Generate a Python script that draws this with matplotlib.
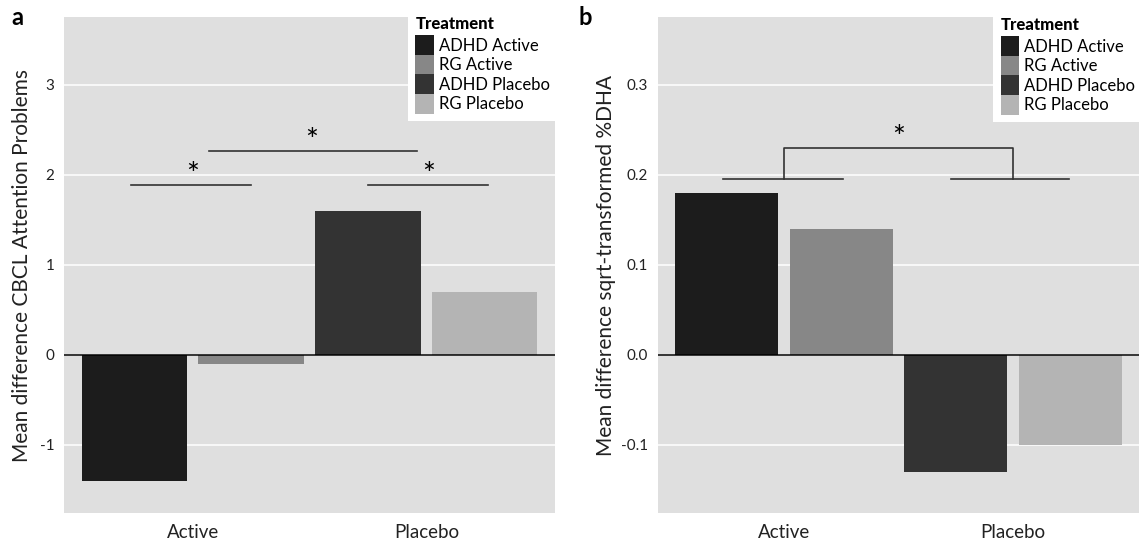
import matplotlib
matplotlib.use("Agg")
import matplotlib.pyplot as plt
from matplotlib.patches import Patch

plt.rcParams['font.family'] = ['Lato', 'DejaVu Sans']

# data
groups = ['Active', 'Placebo']
treatments = ['ADHD Active', 'RG Active', 'ADHD Placebo', 'RG Placebo']
treat_group = [0, 0, 1, 1]
treat_offset = [-0.25, 0.25, -0.25, 0.25]
cbcl_diff = [-1.40, -0.10, 1.60, 0.69]
dha_diff = [0.18, 0.14, -0.13, -0.10]
fills = ['#1c1c1c', '#878787', '#333333', '#b4b4b4']

yticks_a = [-1, 0, 1, 2, 3]
ytick_labels_a = ['-1', '0', '1', '2', '3']
yticks_b = [-0.1, 0.0, 0.1, 0.2, 0.3]
ytick_labels_b = ['-0.1', '0.0', '0.1', '0.2', '0.3']

# significance bars: (x start, x end, y)
sig_lines_a = [(-0.265, 0.25, 1.88), (0.07, 0.96, 2.26), (0.75, 1.265, 1.885)]
sig_stars_a = [(0.0, 1.88), (0.51, 2.26), (1.01, 1.885)]
sig_lines_b = [(-0.267, 0.256, 0.195), (0.73, 1.245, 0.195)]
bracket_b = ([0.0, 0.0, 1.0, 1.0], [0.195, 0.23, 0.23, 0.195])
sig_stars_b = [(0.5, 0.23)]

W, H = 1142, 543
fig = plt.figure(figsize=(W / 100, H / 100), dpi=100)
ax_a = fig.add_axes([64 / W, 1 - 513 / H, 491 / W, 496 / H])
ax_b = fig.add_axes([658 / W, 1 - 513 / H, 481 / W, 496 / H])


def draw_panel(ax, values, yticks, ylabels, ylim, ylabel, label_x):
    ax.set_facecolor('#dfdfdf')
    for sp in ax.spines.values():
        sp.set_visible(False)
    xs = [treat_group[i] + treat_offset[i] for i in range(len(values))]
    ax.bar(xs, values, width=0.45, color=fills, zorder=2)
    ax.axhline(0, color='black', lw=1.1, zorder=3)
    ax.set_xlim(-0.55, 1.55)
    ax.set_ylim(*ylim)
    ax.set_yticks(yticks)
    ax.set_yticklabels(ylabels, fontsize=11, color='#222222')
    ax.set_xticks([0, 1])
    ax.set_xticklabels(groups, fontsize=13.5, color='#222222')
    ax.tick_params(axis='y', length=0, pad=7)
    ax.tick_params(axis='x', length=0, pad=8)
    ax.grid(axis='y', color='white', lw=1.1, zorder=1)
    ax.set_axisbelow(True)
    ax.set_ylabel(ylabel, fontsize=15, color='#222222')
    ax.yaxis.set_label_coords(label_x, 0.5)


draw_panel(ax_a, cbcl_diff, yticks_a, ytick_labels_a, (-1.76, 3.75),
           'Mean difference CBCL Attention Problems', -0.066)
draw_panel(ax_b, dha_diff, yticks_b, ytick_labels_b, (-0.176, 0.375),
           'Mean difference sqrt-transformed %DHA', -0.088)

for x0, x1, y in sig_lines_a:
    ax_a.plot([x0, x1], [y, y], color='#333333', lw=1.2, zorder=4)
for x, y in sig_stars_a:
    ax_a.text(x, y + 0.01, '*', ha='center', va='baseline', fontsize=22, zorder=5)

for x0, x1, y in sig_lines_b:
    ax_b.plot([x0, x1], [y, y], color='#333333', lw=1.2, zorder=4)
ax_b.plot(bracket_b[0], bracket_b[1], color='#333333', lw=1.2, zorder=4)
for x, y in sig_stars_b:
    ax_b.text(x, y + 0.001, '*', ha='center', va='baseline', fontsize=22, zorder=5)

handles = [Patch(facecolor=c, edgecolor='none') for c in fills]
for left, bottom in [(408, 121), (993, 122)]:
    leg = fig.legend(handles, treatments, loc='lower left',
                     bbox_to_anchor=(left / W, 1 - bottom / H), borderaxespad=0,
                     fontsize=12, title='Treatment', alignment='left',
                     title_fontproperties={'weight': 'black', 'size': 12},
                     handlelength=1.1, handleheight=1.43, labelspacing=0,
                     handletextpad=0.3, borderpad=0.45, frameon=True,
                     fancybox=False, framealpha=1)
    leg.get_frame().set_facecolor('white')
    leg.get_frame().set_edgecolor('none')
    leg._legend_box.sep = 2

fig.text(11 / W, 1 - 25 / H, 'a', fontsize=17, fontweight='bold', va='baseline')
fig.text(579 / W, 1 - 25 / H, 'b', fontsize=17, fontweight='bold', va='baseline')

fig.savefig('out.png', dpi=100, facecolor='white')
